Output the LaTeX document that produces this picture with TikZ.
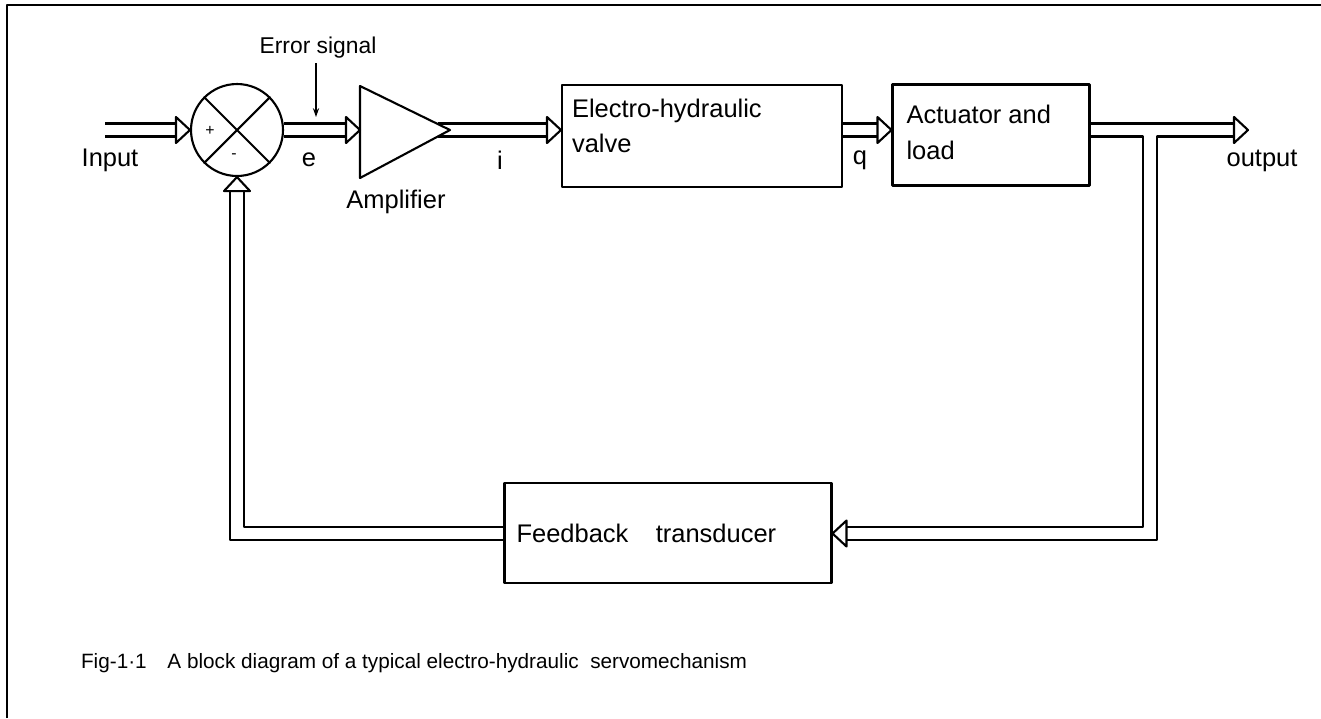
\documentclass[tikz,border=0pt]{standalone}
\usepackage{fontspec}
\setmainfont{Liberation Sans}
\usetikzlibrary{arrows.meta}

\tikzset{
  box/.style={draw, rectangle, inner sep=0pt},
  lbl/.style={font=\fontsize{14.5}{20}\selectfont, inner sep=0pt},
  head/.pic={\draw[fill=white] (-14,-13) -- (0,0) -- (-14,13) -- cycle;}
}

\begin{document}
\begin{tikzpicture}[x=0.02cm, y=-0.02cm, line width=1.2pt, line join=round]
  \useasboundingbox (0,0) rectangle (1321,718);
  \draw[line width=1.6pt] (7,718) -- (7,5) -- (1321,5);

  % blocks
  \node[circle, draw, minimum size=1.84cm, inner sep=0pt] (sum) at (237,130) {};
  \draw (sum.45) -- (sum.225) (sum.135) -- (sum.315);
  \node[font=\small] at (210,131) {+};
  \node[font=\small] at (234,156) {-};
  \coordinate (amp-in) at (360,130);
  \coordinate (amp-out) at (450,130);
  \draw (360,86) -- (amp-out) -- (360,178) -- cycle;
  \node[box, minimum width=5.6cm, minimum height=2.04cm] (valve) at (702,136) {};
  \node[box, minimum width=3.94cm, minimum height=2.02cm] (act) at (991,135) {};
  \node[box, minimum width=6.54cm, minimum height=2cm] (fb) at (668,533) {};

  \node[lbl, anchor=north west, align=left] at ([shift={(10,14)}]valve.north west) {Electro-hydraulic\\valve};
  \node[lbl, anchor=north west, align=left] at ([shift={(14,21)}]act.north west) {Actuator and\\load};
  \node[lbl, anchor=west] at ([shift={(12,0)}]fb.west) {Feedback\hspace{0.8em} transducer};

  % pipes
  \draw (105,123.5) -- (177,123.5) (105,136.5) -- (177,136.5);
  \pic at (sum.west) {head};
  \draw (sum.east |- 0,123.5) -- (346,123.5) (sum.east |- 0,136.5) -- (346,136.5);
  \pic at (amp-in) {head};
  \draw (438,123.5) -- (548,123.5) (438,136.5) -- (548,136.5);
  \pic at (valve.west |- amp-out) {head};
  \draw (valve.east |- 0,123.5) -- (879,123.5) (valve.east |- 0,136.5) -- (879,136.5);
  \pic at (act.west |- amp-out) {head};
  \draw (act.east |- 0,123.5) -- (1234,123.5);
  \draw (act.east |- 0,136.5) -- (1143,136.5) -- (1143,527) -- (846,527);
  \draw (1234,136.5) -- (1157,136.5) -- (1157,540) -- (846,540);
  \pic at (1248,130) {head};
  \pic[rotate=180] at (fb.east |- 0,533.5) {head};
  \draw (fb.west |- 0,527) -- (244,527) -- (244,190);
  \draw (fb.west |- 0,540) -- (230,540) -- (230,190);
  \pic[rotate=90] at (sum.south) {head};

  % labels
  \node[lbl, font=\fontsize{13}{15}\selectfont] (errlbl) at (318,48) {Error signal};
  \draw[-{Stealth[length=5pt,width=3.5pt]}, line width=0.8pt] (316,63) -- (316,117);
  \node[lbl] at (110,160) {Input};
  \node[lbl] at (309,160) {e};
  \node[lbl] at (396,202) {Amplifier};
  \node[lbl] at (500,160) {i};
  \node[lbl] at (860,160) {q};
  \node[lbl] at (1262,161) {output};
  \node[anchor=west, font=\fontsize{11.8}{14}\selectfont, inner sep=0pt] at (80,663)
    {Fig-1·1\quad A block diagram of a typical electro-hydraulic\ \ servomechanism};
\end{tikzpicture}
\end{document}
